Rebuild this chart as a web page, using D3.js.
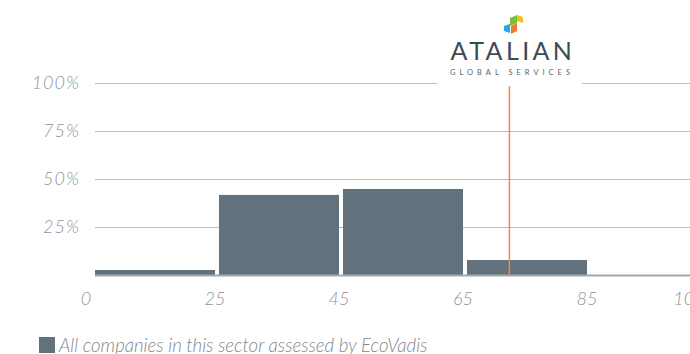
<!DOCTYPE html>
<html>
<head>
<meta charset="utf-8">
<script src="https://cdn.jsdelivr.net/npm/d3@7"></script>
<style>
  html, body { margin: 0; padding: 0; background: #fff; }
  svg { display: block; }
  text { font-family: Lato, "Open Sans", sans-serif; }
</style>
</head>
<body>
<svg id="chart" width="690" height="354"></svg>
<script>
// Score distribution of companies in the sector (share of companies per score band)
const binEdges = [0, 25, 45, 65, 85, 100];
const binLabels = ["0-25", "25-45", "45-65", "65-85", "85-100"];
const binShares = [2.6, 41.7, 44.8, 7.8, 0];
const yTicks = [25, 50, 75, 100];
const companyScore = 72;
const legendLabel = "All companies in this sector assessed by EcoVadis";

const W = 690, H = 354;
const svg = d3.select("#chart");

const barColor = "#62727d";
const tickColor = "#8e959a";

const x = d3.scaleBand()
  .domain(binLabels)
  .range([93, 713])
  .paddingInner(0.032)
  .paddingOuter(0.016);

const y = d3.scaleLinear().domain([0, 100]).range([275, 83]);

// horizontal gridlines + y labels
const yAxis = d3.axisLeft(y)
  .tickValues(yTicks)
  .tickSize(-(W - 95))
  .tickPadding(15)
  .tickFormat(d => d + "%");

const gy = svg.append("g")
  .attr("transform", "translate(95,0)")
  .call(yAxis);
gy.select(".domain").remove();
gy.selectAll(".tick line").attr("stroke", "#b9bec2").attr("stroke-width", 1);
gy.selectAll(".tick text")
  .attr("fill", tickColor)
  .attr("font-size", 18)
  .attr("font-style", "italic")
  .attr("font-weight", 300)
  .attr("letter-spacing", 1)
  .attr("font-family", "Lato, sans-serif");

// bars
svg.append("g").selectAll("rect")
  .data(binLabels.map((b, i) => ({ bin: b, v: binShares[i] })))
  .join("rect")
  .attr("x", d => x(d.bin))
  .attr("width", d => x.bandwidth())
  .attr("y", d => y(d.v))
  .attr("height", d => y(0) - y(d.v))
  .attr("fill", barColor);

// baseline
svg.append("line")
  .attr("x1", x(binLabels[0])).attr("x2", W)
  .attr("y1", y(0) + 0.5).attr("y2", y(0) + 0.5)
  .attr("stroke", "#a3a8ac").attr("stroke-width", 2);

// x tick labels at the lower edge of each band, last edge at the plot's right side
const edgeX = binEdges.map((e, i) => i < binLabels.length ? x(binLabels[i]) - x.paddingInner() * x.step() / 2 - 2 : W - 1);
svg.append("g").selectAll("text")
  .data(binEdges)
  .join("text")
  .attr("x", (d, i) => i === 0 ? edgeX[i] - 5 : edgeX[i])
  .attr("y", 305)
  .attr("text-anchor", "middle")
  .attr("fill", tickColor)
  .attr("font-size", 18)
  .attr("font-style", "italic")
  .attr("font-weight", 300)
  .text(d => d);

// logo panel
const logo = svg.append("g");
logo.append("rect").attr("x", 437).attr("y", 0).attr("width", 145).attr("height", 88).attr("fill", "#fff");
const pieces = [
  { c: "#7cbf3f", p: [[510,18],[517,15],[517,23],[510,26]] },
  { c: "#f5c21b", p: [[517,15],[523,17],[523,23],[517,21]] },
  { c: "#28a8e0", p: [[504,26],[510,24],[510,33],[504,31]] },
  { c: "#f07a32", p: [[511,26],[517,23],[517,31],[511,34]] }
];
logo.selectAll("polygon").data(pieces).join("polygon")
  .attr("points", d => d.p.map(q => q.join(",")).join(" "))
  .attr("fill", d => d.c);
logo.append("text")
  .attr("x", 513).attr("y", 60)
  .attr("text-anchor", "middle")
  .attr("font-size", 25)
  .attr("font-weight", 400)
  .attr("letter-spacing", 3.4)
  .attr("fill", "#3e4a54")
  .attr("font-family", "Lato, sans-serif")
  .text("ATALIAN");
logo.append("text")
  .attr("x", 512).attr("y", 75)
  .attr("text-anchor", "middle")
  .attr("font-size", 7.5)
  .attr("letter-spacing", 4)
  .attr("fill", "#5a646c")
  .attr("font-family", "Lato, sans-serif")
  .text("GLOBAL SERVICES");

// company score marker
const scoreBin = binLabels[3];
const inBin = d3.scaleLinear().domain([binEdges[3], binEdges[4]]).range([x(scoreBin) - 1, x(scoreBin) - 1 + x.step()]);
svg.append("line")
  .attr("x1", inBin(companyScore)).attr("x2", inBin(companyScore))
  .attr("y1", 86).attr("y2", y(0))
  .attr("stroke", "#ee8a4f").attr("stroke-width", 1.5);

// legend
const lg = svg.append("g");
lg.append("rect").attr("x", 39).attr("y", 337).attr("width", 16).attr("height", 16).attr("fill", barColor);
lg.append("text")
  .attr("x", 59).attr("y", 352)
  .attr("font-size", 18.6)
  .attr("font-style", "italic")
  .attr("font-weight", 300)
  .attr("fill", "#7f878d")
  .text(legendLabel);
</script>
</body>
</html>
